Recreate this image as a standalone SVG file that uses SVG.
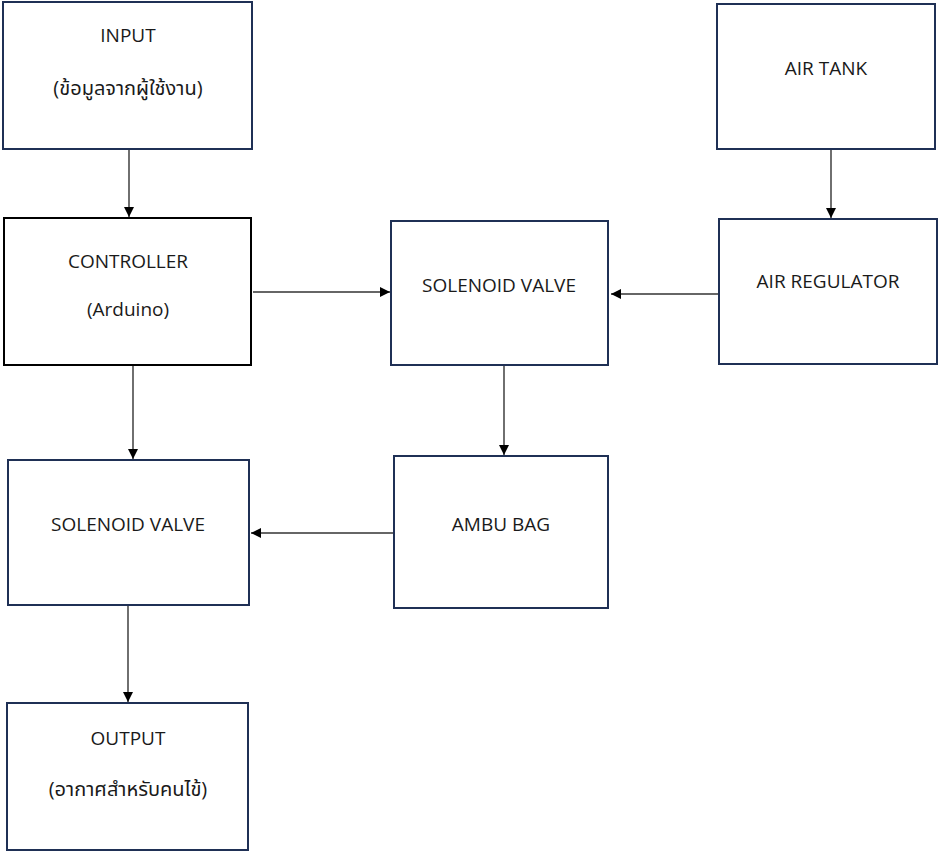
<svg xmlns="http://www.w3.org/2000/svg" width="938" height="852" viewBox="0 0 938 852">
<style>
.box{fill:#fff;stroke:#1f3055;stroke-width:2}
.blk{fill:#fff;stroke:#000;stroke-width:2}
text{font-family:"Open Sans","Noto Sans","Noto Sans Thai","DejaVu Sans",sans-serif;font-size:19px;fill:#1a1a1a;text-anchor:middle}
.th{font-size:20px}
.c{stroke:#333;stroke-width:1.4;fill:none}
</style>
<defs>
<marker id="a" viewBox="0 0 10 10" refX="10" refY="5" markerWidth="11" markerHeight="10" markerUnits="userSpaceOnUse" orient="auto"><path d="M0,0L10,5L0,10z" fill="#000"/></marker>
</defs>
<rect width="938" height="852" fill="#fff"/>
<g id="connectors">
<line class="c" x1="129" y1="150" x2="129" y2="217" marker-end="url(#a)"/>
<line class="c" x1="253" y1="292" x2="390" y2="292" marker-end="url(#a)"/>
<line class="c" x1="831" y1="150" x2="831" y2="218" marker-end="url(#a)"/>
<line class="c" x1="719" y1="294" x2="611" y2="294" marker-end="url(#a)"/>
<line class="c" x1="504" y1="366" x2="504" y2="455" marker-end="url(#a)"/>
<line class="c" x1="133" y1="366" x2="133" y2="459" marker-end="url(#a)"/>
<line class="c" x1="394" y1="533" x2="251" y2="533" marker-end="url(#a)"/>
<line class="c" x1="128" y1="606" x2="128" y2="702" marker-end="url(#a)"/>
</g>
<g id="input"><rect class="box" x="3" y="2" width="249" height="147"/><text x="128" y="42">INPUT</text><text class="th" x="128" y="95">(ข้อมูลจากผู้ใช้งาน)</text></g>
<g id="controller"><rect class="blk" x="4" y="218" width="247" height="147"/><text x="128" y="268">CONTROLLER</text><text x="128" y="316">(Arduino)</text></g>
<g id="solenoid1"><rect class="box" x="391" y="221" width="217" height="144"/><text x="499" y="292">SOLENOID VALVE</text></g>
<g id="airtank"><rect class="box" x="717" y="4" width="218" height="145"/><text x="826" y="75">AIR TANK</text></g>
<g id="airregulator"><rect class="box" x="719" y="219" width="218" height="145"/><text x="828" y="288">AIR REGULATOR</text></g>
<g id="solenoid2"><rect class="box" x="8" y="460" width="241" height="145"/><text x="128" y="531">SOLENOID VALVE</text></g>
<g id="ambubag"><rect class="box" x="394" y="456" width="214" height="152"/><text x="501" y="531">AMBU BAG</text></g>
<g id="output"><rect class="box" x="7" y="703" width="241" height="147"/><text x="128" y="745">OUTPUT</text><text class="th" x="128" y="796">(อากาศสำหรับคนไข้)</text></g>
</svg>
